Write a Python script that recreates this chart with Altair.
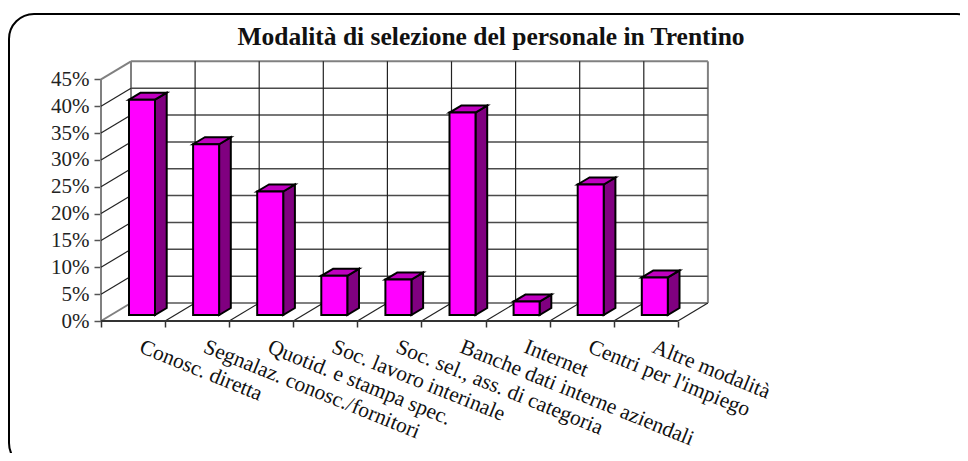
import json
import altair as alt
import pandas as pd

TITLE = "Modalità di selezione del personale in Trentino"
categories = ["Conosc. diretta", "Segnalaz. conosc./fornitori", "Quotid. e stampa spec.",
              "Soc. lavoro interinale", "Soc. sel., ass. di categoria",
              "Banche dati interne aziendali", "Internet", "Centri per l'impiego", "Altre modalità"]
values = [40.1, 31.8, 23.0, 7.3, 6.6, 37.7, 2.5, 24.3, 7.0]
y_ticks = [0, 5, 10, 15, 20, 25, 30, 35, 40, 45]

PX_W, PX_H = 606, 259
UNIT_X = 64.1          # pixels per category
UNIT_Y = 5.37          # pixels per percentage point
DEPTH_X = 30 / UNIT_X  # chart depth in x units
DEPTH_Y = 18 / UNIT_Y  # chart depth in y units
BAR_X0 = 28 / UNIT_X
BAR_X1 = 54 / UNIT_X
BAR_DX = 11.7 / UNIT_X
BAR_DY = 7 / UNIT_Y
BAR_BASE = 6 / UNIT_Y
N = len(categories)

xs = alt.Scale(domain=[0, PX_W / UNIT_X], range=[0, PX_W], nice=False, zero=False)
ys = alt.Scale(domain=[0, PX_H / UNIT_Y], range=[PX_H, 0], nice=False, zero=False)
SERIF = "Liberation Serif"

names_js = json.dumps(categories, ensure_ascii=False)
X_AXIS = alt.Axis(
    values=list(range(N + 1)), grid=False, domain=False, title=None,
    tickSize=6, tickColor="#333333", tickWidth=1.5,
    labelExpr=f"{names_js}[datum.value] || ''",
    labelAngle=22, labelAlign="left", labelBaseline="middle", labelOffset=39,
    labelPadding=19, labelFont=SERIF, labelFontSize=21.5, labelColor="#111111",
    labelOverlap=False, labelLimit=0, labelBound=False, labelFlush=False)
Y_AXIS = alt.Axis(
    values=y_ticks, grid=False, domain=False, title=None,
    tickSize=7, tickColor="#555555", tickWidth=1.5,
    labelExpr="datum.value + '%'", labelPadding=5, labelFont=SERIF, labelFontSize=21,
    labelColor="#222222", labelOverlap=False, labelBound=False, labelFlush=False)


def segs(items):
    rows = []
    for k, (x0, y0, x1, y1) in enumerate(items):
        rows.append({"k": k, "o": 0, "x": x0, "y": y0})
        rows.append({"k": k, "o": 1, "x": x1, "y": y1})
    return pd.DataFrame(rows)


def lines(items, color, width):
    return alt.Chart(segs(items)).mark_line(color=color, strokeWidth=width).encode(
        x=alt.X("x:Q", scale=xs, axis=X_AXIS),
        y=alt.Y("y:Q", scale=ys, axis=Y_AXIS),
        detail="k:N", order="o:Q")


top = y_ticks[-1]
right = float(N)
grid_h = lines([(DEPTH_X, v + DEPTH_Y, right + DEPTH_X, v + DEPTH_Y) for v in y_ticks[1:-1]], "#4a4a4a", 1.5)
grid_v = lines([(i + DEPTH_X, DEPTH_Y, i + DEPTH_X, top + DEPTH_Y) for i in range(1, N)], "#222222", 1.2)
left_slants = lines([(0, v, DEPTH_X, v + DEPTH_Y) for v in y_ticks[1:-1]], "#222222", 1.2)
floor_slants = lines([(i, 0, i + DEPTH_X, DEPTH_Y) for i in range(1, N + 1)], "#222222", 1.2)
walls = lines([
    (DEPTH_X, DEPTH_Y, DEPTH_X, top + DEPTH_Y),
    (DEPTH_X, top + DEPTH_Y, right + DEPTH_X, top + DEPTH_Y),
    (right + DEPTH_X, top + DEPTH_Y, right + DEPTH_X, DEPTH_Y),
    (DEPTH_X, DEPTH_Y, right + DEPTH_X, DEPTH_Y),
    (0, 0, 0, top),
    (0, top, DEPTH_X, top + DEPTH_Y),
    (0, 0, DEPTH_X, DEPTH_Y),
], "#808080", 2)
front_axis = lines([(0, 0, right, 0)], "#333333", 2)

# 3D bars
front_rows, side_rows, top_rows = [], [], []
for i, v in enumerate(values):
    x0, x1 = i + BAR_X0, i + BAR_X1
    front_rows.append({"x": x0, "x2": x1, "y": v + BAR_BASE, "y2": BAR_BASE})
    side_rows.append({"k": i, "x": x1, "y": v + BAR_BASE, "y2": BAR_BASE})
    side_rows.append({"k": i, "x": x1 + BAR_DX, "y": v + BAR_BASE + BAR_DY, "y2": BAR_BASE + BAR_DY})
    top_rows.append({"k": i, "x": x0, "x2": x1, "y": v + BAR_BASE})
    top_rows.append({"k": i, "x": x0 + BAR_DX, "x2": x1 + BAR_DX, "y": v + BAR_BASE + BAR_DY})

side = alt.Chart(pd.DataFrame(side_rows)).mark_area(
    color="#800080", stroke="black", strokeWidth=2, opacity=1).encode(
    x=alt.X("x:Q", scale=xs, axis=X_AXIS),
    y=alt.Y("y:Q", scale=ys, axis=Y_AXIS, stack=None), y2="y2:Q", detail="k:N")
top_face = alt.Chart(pd.DataFrame(top_rows)).mark_area(
    orient="horizontal", color="#C000C0", stroke="black", strokeWidth=2, opacity=1).encode(
    x=alt.X("x:Q", scale=xs, axis=X_AXIS, stack=None), x2="x2:Q",
    y=alt.Y("y:Q", scale=ys, axis=Y_AXIS), detail="k:N")
front = alt.Chart(pd.DataFrame(front_rows)).mark_rect(
    color="#FF00FF", stroke="black", strokeWidth=2, opacity=1).encode(
    x=alt.X("x:Q", scale=xs, axis=X_AXIS), x2="x2:Q",
    y=alt.Y("y:Q", scale=ys, axis=Y_AXIS), y2="y2:Q")

frame = alt.Chart(pd.DataFrame({"a": [0]})).mark_rect(
    fillOpacity=0, stroke="black", strokeWidth=2, cornerRadius=25).encode(
    x=alt.value(-92), x2=alt.value(881), y=alt.value(-48), y2=alt.value(406))

chart = alt.layer(
    walls, grid_h, grid_v, left_slants, floor_slants, front_axis, side, top_face, front, frame
).properties(
    width=PX_W, height=PX_H,
    title=alt.Title(TITLE, font=SERIF, fontSize=25.5, fontWeight="bold", color="#111111",
                    anchor="middle", dx=87, offset=-37),
    autosize=alt.AutoSizeParams(type="none"),
    padding={"left": 93, "top": 54, "right": 253, "bottom": 132},
    background="white",
).configure_view(stroke=None)

chart.save("out.html", embed_options={"renderer": "svg", "actions": False})
